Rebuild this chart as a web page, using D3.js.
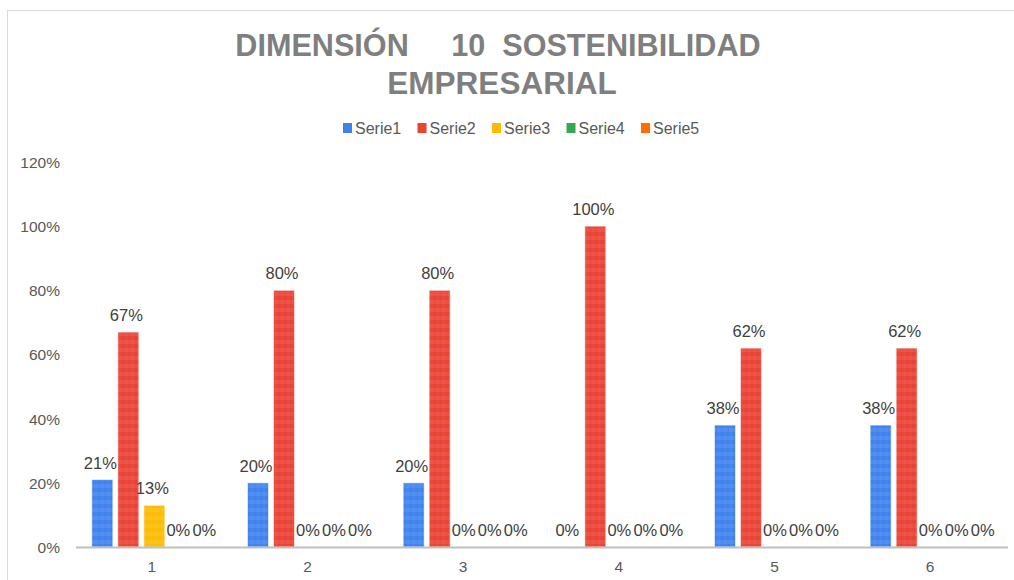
<!DOCTYPE html>
<html><head><meta charset="utf-8">
<script src="https://cdn.jsdelivr.net/npm/d3@7"></script>
<style>
html,body{margin:0;padding:0;background:#fff;}
svg{display:block;font-family:"Liberation Sans",Arial,sans-serif;}
</style></head>
<body>
<svg id="c" width="1014" height="580"></svg>
<script>
const categories = ["1","2","3","4","5","6"];
const seriesNames = ["Serie1","Serie2","Serie3","Serie4","Serie5"];
const serie1 = [0.21, 0.20, 0.20, 0, 0.38, 0.38];
const serie2 = [0.67, 0.80, 0.80, 1.00, 0.62, 0.62];
const serie3 = [0.13, 0, 0, 0, 0, 0];
const serie4 = [0, 0, 0, 0, 0, 0];
const serie5 = [0, 0, 0, 0, 0, 0];
const yTicks = [0, 0.2, 0.4, 0.6, 0.8, 1.0, 1.2];
const colors = ["#3f82ee", "#ea4335", "#fbbc04", "#34a853", "#ff6d01"];
const titleLines = ["DIMENSIÓN     10  SOSTENIBILIDAD", "EMPRESARIAL"];

const seriesValues = [serie1, serie2, serie3, serie4, serie5];
const svg = d3.select("#c");

// frame
svg.append("rect").attr("x",7.5).attr("y",10.5).attr("width",1020).attr("height",600)
  .attr("fill","none").attr("stroke","#d9d9d9").attr("stroke-width",1);

// patterns (subtle stripes)
const defs = svg.append("defs");
colors.forEach((c,i)=>{
  const p = defs.append("pattern").attr("id","pat"+i).attr("patternUnits","userSpaceOnUse")
    .attr("width",6).attr("height",8);
  p.append("rect").attr("width",6).attr("height",8).attr("fill",c);
  p.append("rect").attr("y",4).attr("width",6).attr("height",4).attr("fill","#ffffff").attr("opacity",0.07);
  p.append("rect").attr("x",3).attr("width",3).attr("height",8).attr("fill","#ffffff").attr("opacity",0.03);
});

const x0 = d3.scaleBand().domain(categories).range([74, 1008]);
const x1 = d3.scaleBand().domain(seriesNames).range([-60, 65]).paddingInner(5/26);
const y = d3.scaleLinear().domain([0, 1.2]).range([547, 162]);

// title
svg.append("text").attr("x",498).attr("y",56).attr("text-anchor","middle")
  .attr("font-size",30.6).attr("font-weight","bold").attr("fill","#7f7f7f")
  .style("white-space","pre").attr("xml:space","preserve").text(titleLines[0]);
svg.append("text").attr("x",502).attr("y",94).attr("text-anchor","middle")
  .attr("font-size",31.5).attr("font-weight","bold").attr("fill","#7f7f7f").text(titleLines[1]);

// legend
const leg = svg.append("g");
seriesNames.forEach((s,i)=>{
  const lx = 343 + i*74.5;
  leg.append("rect").attr("x",lx).attr("y",123).attr("width",9).attr("height",10).attr("fill",colors[i]);
  leg.append("text").attr("x",lx+12).attr("y",134).attr("font-size",16).attr("fill","#595959").text(s);
});

// y axis labels
const yAxis = d3.axisLeft(y).tickValues(yTicks).tickFormat(d3.format(".0%")).tickSize(0).tickPadding(0);
const gy = svg.append("g").attr("transform","translate(60,0)").call(yAxis);
gy.select(".domain").remove();
gy.selectAll("text").attr("font-size",15.5).attr("fill","#595959")
  .attr("font-family","'Liberation Sans',Arial,sans-serif").attr("dy","0.35em");

// bars
const groups = svg.append("g").selectAll("g").data(categories).join("g")
  .attr("transform", d => `translate(${x0(d)+x0.bandwidth()/2},0)`);
groups.each(function(cat, ci){
  const g = d3.select(this);
  seriesNames.forEach((s,si)=>{
    const v = seriesValues[si][ci];
    if (v > 0) {
      g.append("rect").attr("x",x1(s)).attr("y",y(v)).attr("width",x1.bandwidth())
        .attr("height",y(0)-y(v)).attr("fill",`url(#pat${si})`)
        .attr("stroke","rgba(255,255,255,0.55)").attr("stroke-width",1);
    }
    g.append("text").attr("x",x1(s)+x1.bandwidth()/2-2).attr("y",y(v)-11)
      .attr("text-anchor","middle").attr("font-size",16.5).attr("fill","#404040")
      .text(d3.format(".0%")(v));
  });
});

// x axis
const xAxis = d3.axisBottom(x0).tickSize(0).tickPadding(14);
const gx = svg.append("g").attr("transform","translate(0,547)").call(xAxis);
gx.select(".domain").remove();
gx.selectAll("text").attr("font-size",15.5).attr("fill","#595959")
  .attr("font-family","'Liberation Sans',Arial,sans-serif");
svg.append("line").attr("x1",76).attr("x2",1008).attr("y1",547.5).attr("y2",547.5)
  .attr("stroke","#bfbfbf").attr("stroke-width",2);
</script>
</body></html>
